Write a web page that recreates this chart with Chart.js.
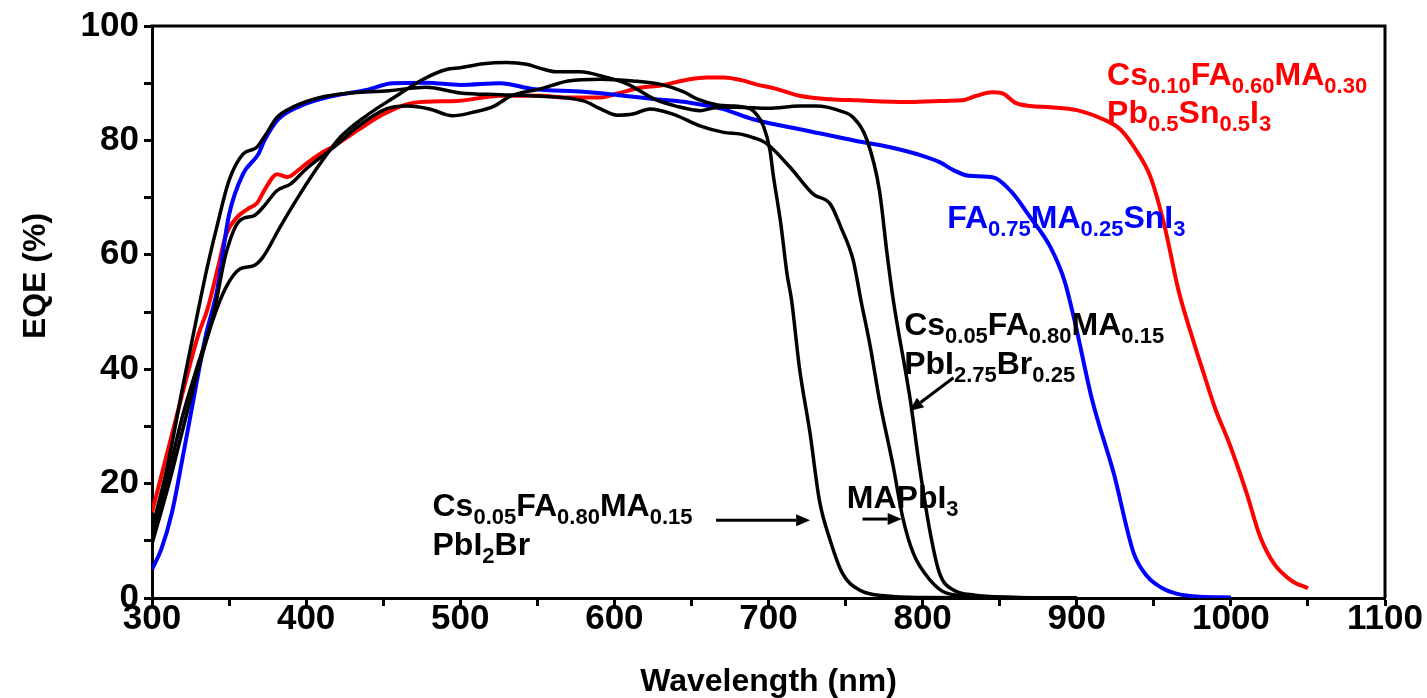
<!DOCTYPE html>
<html>
<head>
<meta charset="utf-8">
<script src="https://cdn.jsdelivr.net/npm/chart.js@4.4.1/dist/chart.umd.min.js"></script>
<style>
    html, body { margin: 0; padding: 0; background: #fff; }
    #wrap { width: 1427px; height: 698px; position: relative; }
</style>
</head>
<body>
<div id="wrap"><canvas id="eqeChart"></canvas></div>
<script>
// Wavelength (nm) and EQE (%) for each cell
var redNm  = [300, 310, 320, 330, 336, 343, 348, 355, 362, 368, 374, 381, 388, 395, 400, 410, 418, 433, 450, 470, 498, 526, 552, 570, 591, 602, 617, 630, 649, 660, 671, 683, 692, 705, 720, 740, 757, 790, 811, 825, 835, 845, 852, 860, 870, 883, 900, 917, 928, 938, 948, 957, 966, 975, 981, 990, 999, 1010, 1019, 1028, 1039, 1050];
var redEqe = [15, 25.5, 36, 46, 50.5, 58, 63.5, 66.5, 68, 69, 71.8, 74.1, 73.6, 74.8, 75.9, 77.8, 79, 81.7, 84.6, 86.6, 86.9, 87.8, 87.8, 87.5, 87.5, 88.2, 89.2, 89.6, 90.7, 91, 91, 90.5, 89.8, 89, 87.8, 87.2, 87, 86.7, 86.9, 87, 87.8, 88.4, 88.2, 86.6, 86, 85.8, 85.3, 83.7, 82, 78.5, 73.5, 65, 53.8, 45.5, 40.4, 33, 27, 18.5, 10.7, 6, 3.1, 1.7];

var blueNm  = [300, 306, 313, 320, 328, 335, 342, 350, 359, 369, 373, 382, 396, 413, 439, 456, 478, 500, 526, 547, 580, 606, 627, 649, 670, 690, 725, 757, 779, 800, 811, 820, 830, 846, 857, 870, 883, 892, 899, 910, 924, 937, 946, 955, 964, 980, 1000];
var blueEqe = [5, 8.5, 15, 24.7, 36.3, 46, 53.5, 67, 74.1, 77.6, 80, 83.7, 86, 87.5, 88.8, 90, 90.1, 89.7, 90, 89, 88.5, 87.8, 87.2, 86.6, 85.5, 83.7, 81.7, 79.9, 78.8, 77.3, 76.2, 74.8, 73.8, 73.5, 71.2, 66.5, 61.3, 55.5, 48, 34.6, 21.8, 7.8, 3.7, 1.8, 0.8, 0.2, 0.1];

// MAPbI3
var mapiNm  = [300, 310, 320, 329, 336, 342, 350, 359, 368, 374, 381, 389, 405, 422, 454, 478, 500, 526, 547, 580, 591, 602, 612, 623, 638, 656, 671, 682, 690, 699, 714, 729, 740, 747, 755, 760, 766, 772, 781, 787, 794, 805, 816, 834, 860, 900];
var mapiEqe = [12, 23, 37, 49, 58, 64.8, 73, 77.6, 78.8, 81.1, 84, 85.5, 87.2, 88.1, 88.7, 89.3, 88.3, 88, 87.8, 86.9, 85.5, 84.4, 84.6, 85.5, 84.6, 82.5, 81.4, 81.1, 80.5, 79.4, 75.3, 70.6, 68.9, 64.8, 59, 52, 44, 34.6, 22.9, 14.2, 7.8, 3.1, 0.8, 0.3, 0.1, 0];

// Cs0.05FA0.80MA0.15PbI2.75Br0.25
var brNm  = [300, 310, 320, 330, 340, 348, 357, 366, 372, 383, 396, 409, 422, 439, 457, 476, 491, 500, 515, 530, 543, 552, 562, 578, 591, 609, 626, 640, 656, 667, 680, 700, 720, 731, 746, 755, 764, 772, 777, 781, 792, 798, 805, 811, 820, 834, 860, 900];
var brEqe = [9.5, 19, 29.5, 40, 49, 54.3, 57.5, 58.1, 59.6, 64.8, 70.6, 75.9, 80.5, 84.3, 87.5, 90.7, 92.4, 92.7, 93.4, 93.6, 93.3, 92.6, 92, 92, 91.3, 89.8, 87.2, 86, 85.2, 85.8, 85.8, 85.6, 86, 86, 85.2, 84, 80, 71.2, 60, 52, 34.6, 22.9, 11.3, 4.3, 1.4, 0.5, 0.1, 0];

// Cs0.05FA0.80MA0.15PbI2Br
var br2Nm  = [300, 310, 320, 330, 340, 348, 357, 366, 372, 381, 390, 400, 418, 433, 452, 465, 480, 495, 508, 522, 533, 552, 570, 591, 612, 630, 645, 654, 667, 678, 686, 690, 697, 701, 703, 708, 712, 715, 720, 727, 733, 740, 748, 759, 777, 800, 900];
var br2Eqe = [11, 21, 32, 41, 49.7, 60.2, 66, 66.8, 68.3, 71.2, 72.4, 75, 78.8, 82.3, 85.5, 86, 85.5, 84.3, 84.9, 86, 87.8, 89, 90.4, 90.7, 90.4, 89.8, 88.5, 87.2, 86.2, 86, 85.7, 85.2, 82.3, 78.2, 74.1, 65.4, 56.7, 52, 40.4, 28.7, 17.1, 10.1, 4.3, 1.4, 0.35, 0.1, 0];

// Axis ticks
var xTickLabels = [300, 400, 500, 600, 700, 800, 900, 1000, 1100];
var yTickLabels = [0, 20, 40, 60, 80, 100];

var FONT = '"Liberation Sans", Arial, sans-serif';

function toPoints(xs, ys) {
    return xs.map(function (x, i) { return {x: x, y: ys[i]}; });
}

function lineSet(label, xs, ys, color, width) {
    return {
        label: label,
        data: toPoints(xs, ys),
        borderColor: color,
        backgroundColor: color,
        borderWidth: width,
        pointRadius: 0,
        fill: false,
        cubicInterpolationMode: "monotone"
    };
}

// Draws text with _{...} parts set as subscripts
function drawRich(ctx, x, y, text, color) {
    var re = /_\{([^}]*)\}|([^_]+)/g, m;
    ctx.fillStyle = color;
    ctx.textAlign = "left";
    ctx.textBaseline = "alphabetic";
    while ((m = re.exec(text)) !== null) {
        if (m[1] !== undefined) {
            ctx.font = "bold 22px " + FONT;
            ctx.fillText(m[1], x, y + 8);
            x += ctx.measureText(m[1]).width;
        } else {
            ctx.font = "bold 32px " + FONT;
            ctx.fillText(m[2], x, y);
            x += ctx.measureText(m[2]).width;
        }
    }
}

function drawArrow(ctx, x1, y1, x2, y2) {
    var ang = Math.atan2(y2 - y1, x2 - x1), len = 14, half = 6;
    var bx = x2 - len * Math.cos(ang), by = y2 - len * Math.sin(ang);
    ctx.strokeStyle = "#000";
    ctx.fillStyle = "#000";
    ctx.lineWidth = 3;
    ctx.beginPath();
    ctx.moveTo(x1, y1);
    ctx.lineTo(bx, by);
    ctx.stroke();
    ctx.beginPath();
    ctx.moveTo(x2, y2);
    ctx.lineTo(bx + half * Math.sin(ang), by - half * Math.cos(ang));
    ctx.lineTo(bx - half * Math.sin(ang), by + half * Math.cos(ang));
    ctx.closePath();
    ctx.fill();
}

// Frame, curve labels, arrows and axis titles
var notesPlugin = {
    id: "notes",
    afterDraw: function (chart) {
        var ctx = chart.ctx, a = chart.chartArea;
        var xs = chart.scales.x, ys = chart.scales.y;
        var px = function (v) { return xs.getPixelForValue(v); };
        var py = function (v) { return ys.getPixelForValue(v); };
        ctx.save();

        ctx.strokeStyle = "#000";
        ctx.lineWidth = 3;
        ctx.beginPath();
        ctx.moveTo(a.left - 1.5, a.top);
        ctx.lineTo(a.right, a.top);
        ctx.lineTo(a.right, a.bottom);
        ctx.stroke();

        drawRich(ctx, px(919.7), py(89.7), "Cs_{0.10}FA_{0.60}MA_{0.30}", "#ff0000");
        drawRich(ctx, px(919.7), py(83.1), "Pb_{0.5}Sn_{0.5}I_{3}", "#ff0000");
        drawRich(ctx, px(815.9), py(64.7), "FA_{0.75}MA_{0.25}SnI_{3}", "#0000ff");
        drawRich(ctx, px(788), py(45.9), "Cs_{0.05}FA_{0.80}MA_{0.15}", "#000");
        drawRich(ctx, px(788), py(39.2), "PbI_{2.75}Br_{0.25}", "#000");
        drawRich(ctx, px(482), py(14.3), "Cs_{0.05}FA_{0.80}MA_{0.15}", "#000");
        drawRich(ctx, px(482), py(7.5), "PbI_{2}Br", "#000");
        drawRich(ctx, px(750.8), py(15.65), "MAPbI_{3}", "#000");

        drawArrow(ctx, px(666), py(13.6), px(727), py(13.6));
        drawArrow(ctx, px(761), py(13.8), px(786.4), py(13.8));
        drawArrow(ctx, px(820), py(38.5), px(791.4), py(32.7));

        ctx.fillStyle = "#000";
        ctx.font = "bold 32px " + FONT;
        ctx.textAlign = "center";
        ctx.textBaseline = "alphabetic";
        ctx.fillText("Wavelength (nm)", (a.left + a.right) / 2, 691);
        ctx.translate(45, 276);
        ctx.rotate(-Math.PI / 2);
        ctx.fillText("EQE (%)", 0, 0);
        ctx.restore();
    }
};

var ctx = document.getElementById("eqeChart").getContext("2d");
var eqeChart = new Chart(ctx, {
    type: "line",
    data: {
        datasets: [
            lineSet("MAPbI3", mapiNm, mapiEqe, "#000000", 3.5),
            lineSet("Cs0.05FA0.80MA0.15PbI2.75Br0.25", brNm, brEqe, "#000000", 3.5),
            lineSet("Cs0.05FA0.80MA0.15PbI2Br", br2Nm, br2Eqe, "#000000", 3.5),
            lineSet("FA0.75MA0.25SnI3", blueNm, blueEqe, "#0000ff", 4),
            lineSet("Cs0.10FA0.60MA0.30Pb0.5Sn0.5I3", redNm, redEqe, "#ff0000", 4)
        ]
    },
    options: {
        responsive: true,
        maintainAspectRatio: false,
        animation: false,
        devicePixelRatio: 1,
        layout: {padding: {left: 0, top: 25, right: 42, bottom: 0}},
        plugins: {
            legend: {display: false},
            tooltip: {enabled: false}
        },
        scales: {
            x: {
                type: "linear",
                min: 300,
                max: 1100,
                afterFit: function (s) {
                    s.height = 100;
                    s.paddingLeft = 0;
                    s.paddingRight = 0;
                },
                ticks: {
                    stepSize: 50,
                    autoSkip: false,
                    maxRotation: 0,
                    padding: -4,
                    color: "#000",
                    font: {family: FONT, size: 35, weight: "bold", lineHeight: 1},
                    callback: function (v) {
                        return xTickLabels.indexOf(v) >= 0 ? String(v) : "";
                    }
                },
                grid: {drawOnChartArea: false, tickLength: 8, tickWidth: 3, tickColor: "#000"},
                border: {color: "#000", width: 3}
            },
            y: {
                min: 0,
                max: 100,
                afterFit: function (s) {
                    s.width = 152;
                },
                ticks: {
                    stepSize: 10,
                    autoSkip: false,
                    padding: 5,
                    color: "#000",
                    font: {family: FONT, size: 35, weight: "bold"},
                    callback: function (v) {
                        return yTickLabels.indexOf(v) >= 0 ? String(v) : "";
                    }
                },
                grid: {drawOnChartArea: false, tickLength: 8, tickWidth: 3, tickColor: "#000"},
                border: {color: "#000", width: 3}
            }
        }
    },
    plugins: [notesPlugin]
});
</script>
</body>
</html>
